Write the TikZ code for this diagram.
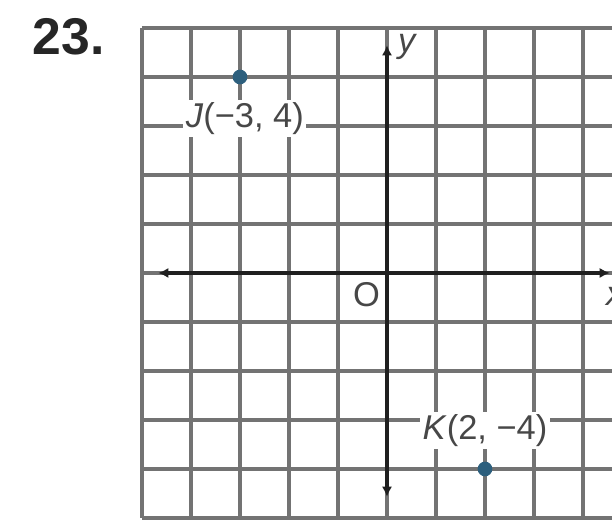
\documentclass[tikz,border=0pt]{standalone}
\usepackage{fontspec}
\setmainfont{Liberation Sans}
\usetikzlibrary{arrows.meta}
\definecolor{ptblue}{RGB}{45,95,125}
\begin{document}
\begin{tikzpicture}[x=1cm,y=1cm,
 gridline/.style={line width=2pt, draw=black!55},
 axisline/.style={line width=2.4pt, draw=black!88, {Latex[length=6pt,width=6pt]}-{Latex[length=6pt,width=6pt]}},
 ptdot/.style={circle, fill=ptblue, inner sep=0pt, minimum size=0.3cm},
 lbl/.style={font=\fontsize{20}{24}\selectfont, text=black!72, fill=white, inner sep=1.5pt},
 axlbl/.style={font=\fontsize{20}{24}\selectfont, text=black!72, inner sep=0pt},
 numlbl/.style={font=\fontsize{30}{34}\selectfont\bfseries, text=black!85, inner sep=0pt}
]
\useasboundingbox (-7.898,-5.061) rectangle (4.592,5.571);
\node[numlbl] (num) at (-6.50,4.82) {23.};
\begin{scope}
\clip (-7.898,-5.061) rectangle (4.592,5.571);
\foreach \i in {-5,...,5} {
  \draw[gridline] (\i,-5) -- (\i,5);
  \draw[gridline] (-5,\i) -- (5,\i);
}
\coordinate (xl) at (-4.67,0);
\coordinate (xr) at (4.55,0);
\coordinate (yt) at (0,4.65);
\coordinate (yb) at (0,-4.57);
\draw[axisline] (xl) -- (xr);
\draw[axisline] (yb) -- (yt);
\node[ptdot] (J) at (-3,4) {};
\node[ptdot] (K) at (2,-4) {};
\node[lbl] (Jl) at (-2.90,3.16) {\textit{J}(−3, 4)};
\node[lbl] (Kl) at (2.0,-3.22) {\textit{K}(2, −4)};
\node[axlbl] (ylab) at (0.42,4.62) {\textit{y}};
\node[axlbl] (olab) at (-0.42,-0.45) {O};
\node[axlbl] (xlab) at (4.66,-0.48) {\textit{x}};
\end{scope}
\end{tikzpicture}
\end{document}
